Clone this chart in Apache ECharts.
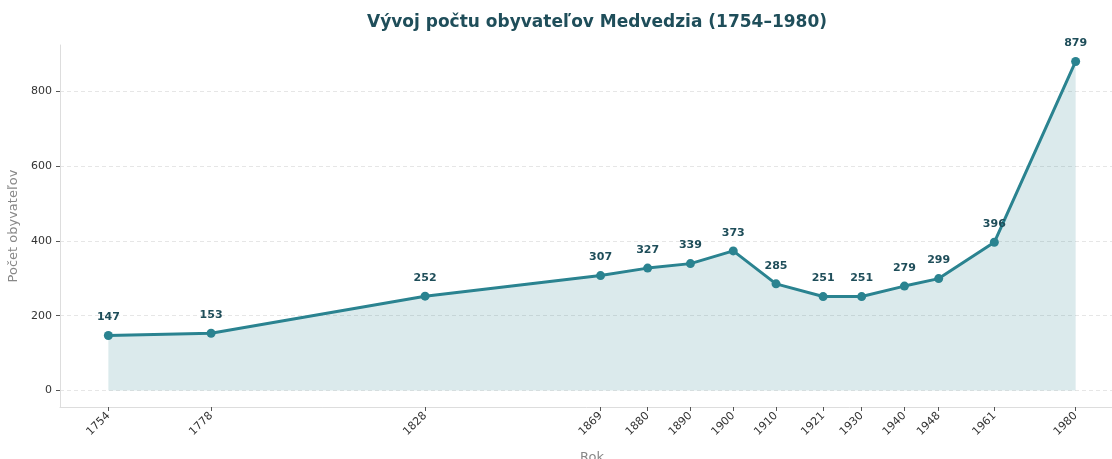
<!DOCTYPE html>
<html>
<head>
<meta charset="utf-8">
<script src="https://cdn.jsdelivr.net/npm/echarts@6/dist/echarts.min.js"></script>
<style>html,body{margin:0;padding:0;background:#fff}#c{width:1112px;height:459px}</style>
</head>
<body>
<div id="c"></div>
<script>
const years = [1754, 1778, 1828, 1869, 1880, 1890, 1900, 1910, 1921, 1930, 1940, 1948, 1961, 1980];
const population = [147, 153, 252, 307, 327, 339, 373, 285, 251, 251, 279, 299, 396, 879];
const yTicks = [0, 200, 400, 600, 800];

const chart = echarts.init(document.getElementById('c'), null, {renderer: 'canvas'});
const font = 'DejaVu Sans';
chart.setOption({
  animation: false,
  textStyle: {fontFamily: font},
  title: {
    text: 'Vývoj počtu obyvateľov Medvedzia (1754–1980)',
    left: 592, top: 9, textAlign: 'center',
    textStyle: {fontFamily: font, fontSize: 17, fontWeight: 'bold', color: '#1f4e5a'}
  },
  grid: {left: 60, top: 45, width: 1064, height: 362, outerBoundsMode: 'none', containLabel: false},
  xAxis: {
    type: 'value', min: 1742.7, max: 1991.3,
    name: 'Rok', nameLocation: 'middle', nameGap: 44,
    nameTextStyle: {color: '#888', fontSize: 13, fontFamily: font},
    axisLine: {show: true, onZero: false, lineStyle: {color: '#ddd', width: 1}},
    axisTick: {show: true, length: 4, lineStyle: {color: '#555'}, customValues: years},
    axisLabel: {rotate: 45, fontSize: 11, color: '#333', margin: 7, customValues: years, formatter: v => String(v)},
    splitLine: {show: false}
  },
  yAxis: {
    type: 'value', min: -44, max: 923,
    name: 'Počet obyvateľov', nameLocation: 'middle', nameGap: 40,
    nameTextStyle: {color: '#888', fontSize: 13, fontFamily: font},
    axisLine: {show: true, onZero: false, lineStyle: {color: '#ddd', width: 1}},
    axisTick: {show: true, length: 4, lineStyle: {color: '#555'}, customValues: yTicks},
    axisLabel: {fontSize: 11, color: '#333', margin: 8, customValues: yTicks},
    splitLine: {show: true, lineStyle: {color: '#e6e6e6', type: [4, 3], width: 1}}
  },
  series: [{
    type: 'line',
    data: years.map((y, i) => [y, population[i]]),
    symbol: 'circle', symbolSize: 9,
    lineStyle: {color: '#2a8390', width: 3},
    itemStyle: {color: '#2a8390'},
    areaStyle: {color: 'rgba(42,131,144,0.17)', opacity: 1},
    label: {show: true, position: 'top', distance: 8, fontSize: 11, fontWeight: 'bold', color: '#1f4e5a', fontFamily: font}
  }]
});
</script>
</body>
</html>
